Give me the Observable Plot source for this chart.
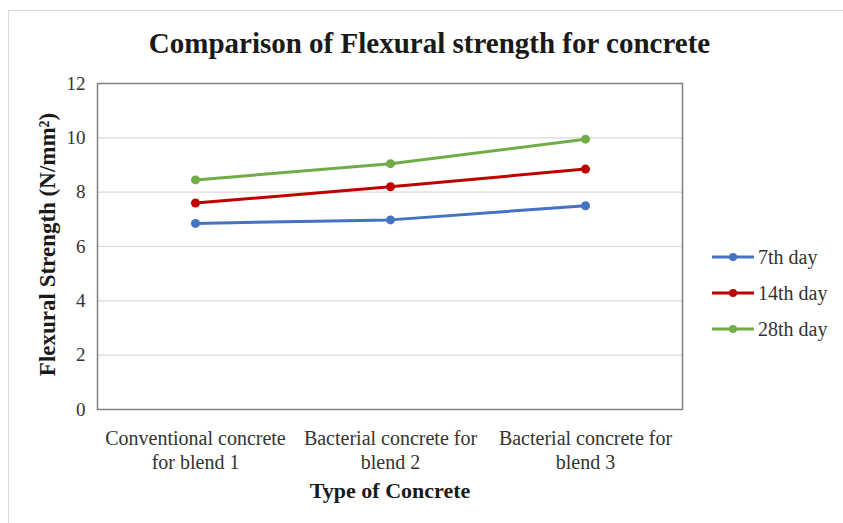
<!DOCTYPE html>
<html>
<head>
<meta charset="utf-8">
<script src="https://cdn.jsdelivr.net/npm/d3@7"></script>
<script src="https://cdn.jsdelivr.net/npm/@observablehq/plot@0.6"></script>
<style>
  html, body { margin: 0; padding: 0; background: #fff; }
  #wrap { position: relative; width: 843px; height: 523px; overflow: hidden; font-family: "Liberation Serif", "Times New Roman", serif; }
  #frame { position: absolute; left: 8px; top: 10px; width: 840px; height: 520px; border: 1px solid #d9d9d9; box-sizing: border-box; }
  #title { position: absolute; left: 8px; top: 27px; width: 843px; text-align: center; font-weight: bold; font-size: 29px; color: #1a1a1a; }
  #chart { position: absolute; left: 0; top: 0; }
  #legend { position: absolute; left: 711px; top: 239px; font-size: 20px; color: #333; }
  .row { display: flex; align-items: center; height: 36px; }
  .row svg { margin-right: 3px; }
</style>
</head>
<body>
<div id="wrap">
  <div id="frame"></div>
  <div id="chart"></div>
  <div id="title">Comparison of Flexural strength for concrete</div>
  <div id="legend"></div>
</div>
<script>
const categories = ["Conventional concrete\nfor blend 1", "Bacterial concrete for\nblend 2", "Bacterial concrete for\nblend 3"];
const seriesNames = ["7th day", "14th day", "28th day"];
const day7 = [6.85, 6.98, 7.5];
const day14 = [7.6, 8.2, 8.85];
const day28 = [8.45, 9.05, 9.95];
const colors = ["#4472C4", "#C00000", "#70AD47"];
const yTicks = [0, 2, 4, 6, 8, 10, 12];

const seriesValues = [day7, day14, day28];
const data = [];
seriesNames.forEach((s, i) => categories.forEach((c, j) => data.push({series: s, category: c, value: seriesValues[i][j]})));

const plot = Plot.plot({
  width: 843,
  height: 523,
  marginTop: 83,
  marginBottom: 114,
  marginLeft: 97,
  marginRight: 161,
  style: {fontFamily: "'Liberation Serif', 'Times New Roman', serif", fontSize: "16px", color: "#333", background: "transparent"},
  x: {type: "point", domain: categories, padding: 0.5, label: null},
  y: {domain: [0, 12], label: null},
  color: {domain: seriesNames, range: colors},
  marks: [
    Plot.gridY(yTicks, {stroke: "#d9d9d9", strokeOpacity: 1, strokeWidth: 1.2}),
    Plot.frame({stroke: "#7f7f7f", strokeWidth: 1.5}),
    Plot.axisY(yTicks, {tickSize: 0, tickPadding: 12, fontSize: 19, fill: "#333", label: null}),
    Plot.axisX({tickSize: 0, tickPadding: 18, fontSize: 20, fill: "#333", lineHeight: 1.2, label: null}),
    Plot.line(data, {x: "category", y: "value", z: "series", stroke: "series", strokeWidth: 3}),
    Plot.dot(data, {x: "category", y: "value", fill: "series", r: 4.5}),
    Plot.text(["Type of Concrete"], {frameAnchor: "bottom", dy: 88, text: d => d, fontWeight: "bold", fontSize: 22, fill: "#1a1a1a"}),
    Plot.text(["Flexural Strength (N/mm²)"], {frameAnchor: "left", textAnchor: "middle", dx: -50, dy: -2, rotate: -90, text: d => d, fontWeight: "bold", fontSize: 23, fill: "#1a1a1a"})
  ]
});
document.getElementById("chart").appendChild(plot);

const legend = document.getElementById("legend");
seriesNames.forEach((s, i) => {
  const row = document.createElement("div");
  row.className = "row";
  row.innerHTML = `<svg width="44" height="12"><line x1="1" y1="6" x2="43" y2="6" stroke="${colors[i]}" stroke-width="3"/><circle cx="22" cy="6" r="4" fill="${colors[i]}"/></svg><span>${s}</span>`;
  legend.appendChild(row);
});
</script>
</body>
</html>
